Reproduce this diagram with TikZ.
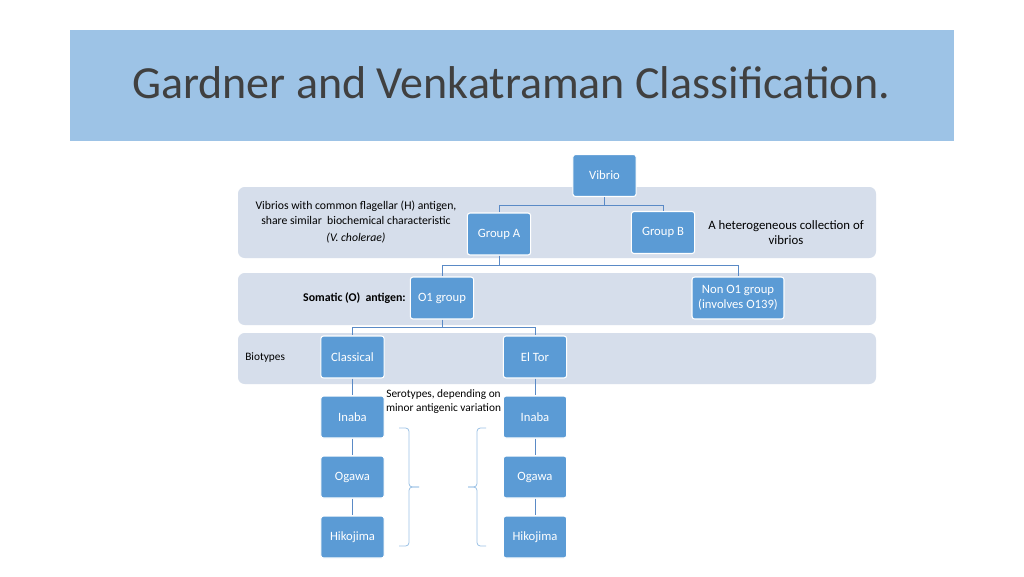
\documentclass[tikz,border=0pt]{standalone}
\usepackage{fontspec}
\setmainfont{Carlito}
\definecolor{titleband}{HTML}{9DC3E6}
\definecolor{band}{HTML}{D6DEEB}
\definecolor{boxfill}{HTML}{5B9BD5}
\definecolor{conn}{HTML}{5A8AC6}
\definecolor{brace}{HTML}{9DC3E6}
\begin{document}
\begin{tikzpicture}[x=0.75pt,y=-0.75pt,
  box/.style={draw=white,line width=0.8pt,fill=boxfill,rounded corners=2pt,text=white,
    font=\fontsize{9.5}{11}\selectfont,align=center,inner sep=0pt,
    minimum width=47.5pt,minimum height=31.5pt},
  bandbox/.style={fill=band,rounded corners=5pt,draw=none},
  link/.style={draw=conn,line width=0.6pt},
  brc/.style={draw=brace,line width=0.6pt,rounded corners=2.5pt},
  lbl/.style={font=\fontsize{9.6}{11.3}\selectfont,align=center,inner sep=0pt}]
\useasboundingbox (0,0) rectangle (1024,576);
\fill[white] (0,0) rectangle (1024,576);
% title
\fill[titleband] (70,30) rectangle (954,141);
\node[font=\fontsize{34.5}{40}\selectfont,text=black!75] (title) at (511,83) {Gardner and Venkatraman Classification.};
% bands
\path[bandbox] (238,187) rectangle (876,258);
\path[bandbox] (238,273) rectangle (876,325);
\path[bandbox] (238,333) rectangle (876,384);
% boxes
\node[box] (vibrio) at (604.5,175.5) {Vibrio};
\node[box] (ga) at (499,234) {Group A};
\node[box] (gb) at (663,232.5) {Group B};
\node[box] (o1) at (442,298) {O1 group};
\node[box,minimum width=69pt] (non) at (738,298) {Non O1 group\\(involves O139)};
\node[box] (cl) at (352.5,357) {Classical};
\node[box] (et) at (535,357) {El Tor};
\node[box] (in1) at (352.5,417) {Inaba};
\node[box] (og1) at (352.5,477) {Ogawa};
\node[box] (hk1) at (352.5,537) {Hikojima};
\node[box] (in2) at (535,417) {Inaba};
\node[box] (og2) at (535,477) {Ogawa};
\node[box] (hk2) at (535,537) {Hikojima};
% connectors
\draw[link] (vibrio.south) -- ++(0,8) -| (ga.north);
\draw[link] (vibrio.south) ++(0,8) -| (gb.north);
\draw[link] (ga.south) -- ++(0,10) -| (o1.north);
\draw[link] (ga.south) ++(0,10) -| (non.north);
\draw[link] (o1.south) -- ++(0,8) -| (cl.north);
\draw[link] (o1.south) ++(0,8) -| (et.north);
\draw[link] (cl.south) -- (in1.north);
\draw[link] (in1.south) -- (og1.north);
\draw[link] (og1.south) -- (hk1.north);
\draw[link] (et.south) -- (in2.north);
\draw[link] (in2.south) -- (og2.north);
\draw[link] (og2.south) -- (hk2.north);
% braces
\coordinate (lbtip) at (419,487);
\coordinate (rbtip) at (468,487);
\draw[brc] (399,428) -- (409,428) -- (409,487) -- (lbtip);
\draw[brc] (399,546) -- (409,546) -- (409,487) -- (lbtip);
\draw[brc] (486,428) -- (477,428) -- (477,487) -- (rbtip);
\draw[brc] (486,546) -- (477,546) -- (477,487) -- (rbtip);
% labels
\node[lbl,font=\fontsize{8.8}{11.2}\selectfont] (t1) at (356,222) {Vibrios with common flagellar (H) antigen,\\share similar\ \ biochemical characteristic\\[2pt]\textit{(V. cholerae)}};
\node[lbl] (t2) at (786,232.5) {A heterogeneous collection of\\vibrios};
\node[lbl,anchor=east,font=\bfseries\fontsize{8.9}{10}\selectfont] (t3) at (406,298) {Somatic (O)\ \ antigen:};
\node[lbl,anchor=west,font=\fontsize{8.5}{10}\selectfont] (t4) at (245,358) {Biotypes};
\node[lbl,font=\fontsize{8.5}{10}\selectfont] (t5) at (443.5,401.5) {Serotypes, depending on\\minor antigenic variation};
\end{tikzpicture}
\end{document}
